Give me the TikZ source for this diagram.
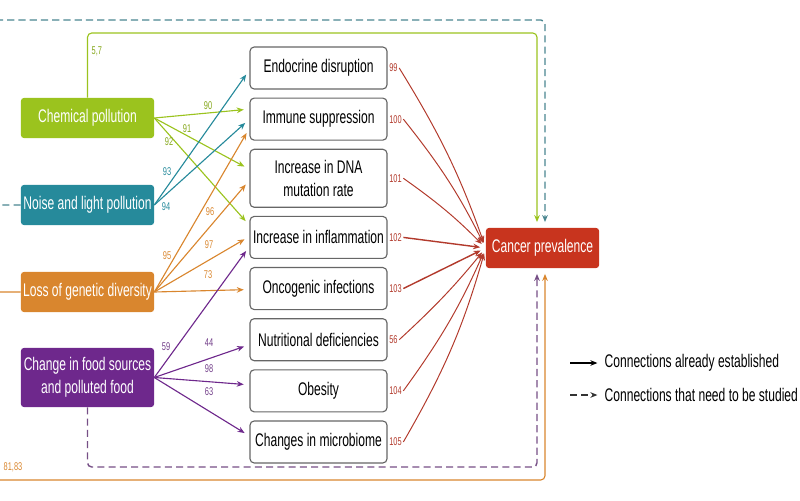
\documentclass[tikz,border=0pt]{standalone}
\usepackage{fontspec}
\setmainfont{Liberation Sans}[FakeStretch=0.66]
\usepackage{tikz}
\usetikzlibrary{arrows.meta, positioning, calc}
\definecolor{chemgreen}{RGB}{155,195,30}
\definecolor{noiseteal}{RGB}{38,138,155}
\definecolor{lossorange}{RGB}{217,134,46}
\definecolor{foodpurple}{RGB}{110,40,140}
\definecolor{cancerred}{RGB}{200,52,30}
\definecolor{redline}{RGB}{178,58,44}
\tikzstyle{srcbox} = [rectangle, rounded corners=2pt, minimum width=3.325cm, minimum height=1cm, align=center, inner sep=1pt, text=white, font=\fontsize{13}{16}\selectfont]
\tikzstyle{midbox} = [rectangle, rounded corners=3pt, minimum width=3.425cm, minimum height=1.05cm, align=center, inner sep=1pt, draw=black!60, line width=0.8pt, fill=white, font=\fontsize{13}{16}\selectfont]
\tikzstyle{numlbl} = [inner sep=1pt, font=\fontsize{8}{9}\selectfont]
\tikzstyle{arr} = [-{Stealth[length=5pt, width=4pt]}, line width=0.8pt, shorten >=4pt]
\tikzstyle{darr} = [arr, line width=1pt, dash pattern=on 5pt off 3pt]
\tikzstyle{redarr} = [arr, redline, line width=0.7pt]

\begin{document}
\begin{tikzpicture}[x=0.025cm, y=-0.025cm]
\useasboundingbox (0,0) rectangle (800,500);
\node (chem) [srcbox, fill=chemgreen] at (87.5,118) {Chemical pollution};
\node (noise) [srcbox, fill=noiseteal] at (87.5,205) {Noise and light pollution};
\node (loss) [srcbox, fill=lossorange] at (87.5,292) {Loss of genetic diversity};
\node (food) [srcbox, fill=foodpurple, minimum height=1.475cm] at (87.5,377.5) {Change in food sources\\and polluted food};

\node (endo) [midbox] at (318.5,68) {Endocrine disruption};
\node (immu) [midbox, below=0.2cm of endo] {Immune suppression};
\node (dna) [midbox, below=0.2cm of immu, minimum height=1.45cm] {Increase in DNA\\mutation rate};
\node (infl) [midbox, below=0.2cm of dna] {Increase in inflammation};
\node (onco) [midbox, below=0.2cm of infl] {Oncogenic infections};
\node (nutr) [midbox, below=0.2cm of onco] {Nutritional deficiencies};
\node (obes) [midbox, below=0.2cm of nutr] {Obesity};
\node (micr) [midbox, below=0.2cm of obes] {Changes in microbiome};

\node (cancer) [srcbox, fill=cancerred, minimum width=2.825cm] at (542.5,248) {Cancer prevalence};

\draw[arr, chemgreen] (chem.east) -- ($(immu.west)+(0,-10)$);
\draw[arr, chemgreen] (chem.east) -- ($(dna.west)+(0,-9)$);
\draw[arr, chemgreen] (chem.east) -- ($(infl.west)+(0,-12)$);
\draw[arr, noiseteal] (noise.east) -- ($(endo.west)+(0,2)$);
\draw[arr, noiseteal] (noise.east) -- (immu.west);
\draw[arr, lossorange] (loss.east) -- ($(immu.west)+(0,9)$);
\draw[arr, lossorange] (loss.east) -- ($(dna.west)+(0,2)$);
\draw[arr, lossorange] (loss.east) -- ($(infl.west)+(0,-1)$);
\draw[arr, lossorange] (loss.east) -- ($(onco.west)+(0,1)$);
\draw[arr, foodpurple] (food.east) -- ($(infl.west)+(0,9)$);
\draw[arr, foodpurple] (food.east) -- ($(nutr.west)+(0,5)$);
\draw[arr, foodpurple] (food.east) -- ($(obes.west)+(0,-6)$);
\draw[arr, foodpurple] (food.east) -- ($(micr.west)+(0,-6)$);

\node[numlbl, text=chemgreen!85!black] at (208,106) {90};
\node[numlbl, text=chemgreen!85!black] at (187,129) {91};
\node[numlbl, text=chemgreen!85!black] at (169,142) {92};
\node[numlbl, text=noiseteal] at (167,172) {93};
\node[numlbl, text=noiseteal] at (166,207) {94};
\node[numlbl, text=lossorange] at (210,212) {96};
\node[numlbl, text=lossorange] at (167,256) {95};
\node[numlbl, text=lossorange] at (209,245) {97};
\node[numlbl, text=lossorange] at (208,275) {73};
\node[numlbl, text=foodpurple!75!gray] at (166,347) {59};
\node[numlbl, text=foodpurple!75!gray] at (209,343) {44};
\node[numlbl, text=foodpurple!75!gray] at (209,369) {98};
\node[numlbl, text=foodpurple!75!gray] at (209,392) {63};

\draw[arr, chemgreen, rounded corners=3pt] (chem.north) |- (537,33) -- ($(cancer.north)+(-5.5,0)$);
\node[numlbl, text=chemgreen!85!black, anchor=west] at (90,51) {5,7};
\draw[darr, noiseteal!60!gray, rounded corners=3pt] (noise.west) -| (-8,20) -- (545,20) -- ($(cancer.north)+(2.5,0)$);
\draw[arr, lossorange, rounded corners=3pt] (loss.west) -| (-8,480) -- (545,480) -- ($(cancer.south)+(2.5,0)$);
\node[numlbl, text=lossorange, anchor=west] at (2,467) {81,83};
\draw[darr, foodpurple!55!gray, rounded corners=3pt] (food.south) |- (537,467) -- ($(cancer.south)+(-5.5,0)$);

\node (r99) [numlbl, text=redline, right=0pt of endo] {99};
\node (r100) [numlbl, text=redline, right=0pt of immu] {100};
\node (r101) [numlbl, text=redline, right=0pt of dna] {101};
\node (r102) [numlbl, text=redline, right=0pt of infl] {102};
\node (r103) [numlbl, text=redline, right=0pt of onco] {103};
\node (r56) [numlbl, text=redline, right=0pt of nutr] {56};
\node (r104) [numlbl, text=redline, right=0pt of obes] {104};
\node (r105) [numlbl, text=redline, right=0pt of micr] {105};
\draw[redarr] (r99.east) to[bend left=6] (cancer.west);
\draw[redarr] (r100.east) to[bend left=6] (cancer.west);
\draw[redarr] (r101.east) to[bend left=5] (cancer.west);
\draw[redarr, line width=1pt] (r102.east) -- (cancer.west);
\draw[redarr, line width=1pt] (r103.east) -- (cancer.west);
\draw[redarr] (r56.east) to[bend right=4] (cancer.west);
\draw[redarr] (r104.east) to[bend right=6] (cancer.west);
\draw[redarr] (r105.east) to[bend right=7] (cancer.west);

\node (leg1) [anchor=west, inner sep=1pt, font=\fontsize{13}{16}\selectfont] at (603,363) {Connections already established};
\node (leg2) [anchor=west, inner sep=1pt, font=\fontsize{13}{16}\selectfont] at (603,395) {Connections that need to be studied};
\draw[arr, black] ($(leg1.west)+(-33,0)$) -- (leg1.west);
\draw[darr, black!80] ($(leg2.west)+(-33,0)$) -- (leg2.west);
\end{tikzpicture}
\end{document}
